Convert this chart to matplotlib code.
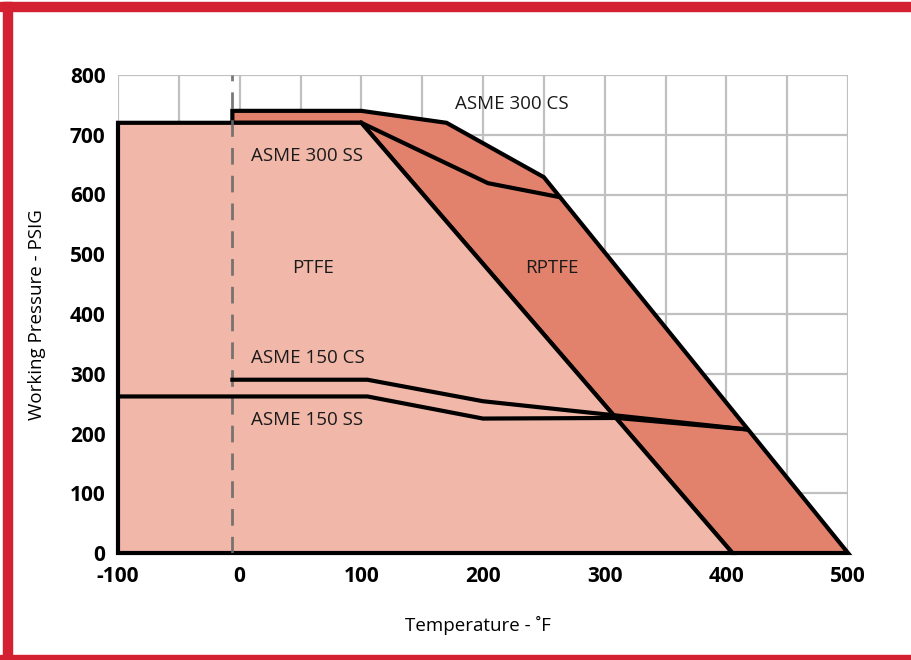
import matplotlib
matplotlib.use("Agg")
import matplotlib.pyplot as plt
from matplotlib.patches import Polygon, Rectangle

plt.rcParams["font.family"] = ["Open Sans", "DejaVu Sans"]

# PTFE envelope (temperature F, pressure psig)
ptfe_temp = [-100, -100, 100, 405]
ptfe_psi = [0, 720, 720, 0]

# RPTFE envelope, ASME 300 CS along the top
rptfe_temp = [-6, -6, 100, 170, 250, 500, 405, 100]
rptfe_psi = [720, 740, 740, 720, 629, 0, 0, 720]

asme300ss_temp = [100, 204, 262]
asme300ss_psi = [720, 619, 596]

asme150cs_temp = [-6, 105, 200, 416]
asme150cs_psi = [290, 290, 254, 207]

asme150ss_temp = [-100, 105, 200, 310, 416]
asme150ss_psi = [262, 262, 225, 226, 207]

x_ticks = [-100, 0, 100, 200, 300, 400, 500]
y_ticks = [0, 100, 200, 300, 400, 500, 600, 700, 800]

light = "#F1B8A9"
dark = "#E2826D"
red = "#D42132"

fig = plt.figure(figsize=(9.11, 6.6), dpi=100)
ax = fig.add_axes([118 / 911, 107 / 660, 730 / 911, 478 / 660])
ax.set_xlim(-100, 500)
ax.set_ylim(0, 800)

for gx in range(-100, 501, 50):
    ax.axvline(gx, color="#C0C0C0", lw=1.6, zorder=0)
for gy in range(0, 801, 100):
    ax.axhline(gy, color="#C0C0C0", lw=1.6, zorder=0)

ax.add_patch(Polygon(list(zip(rptfe_temp, rptfe_psi)), closed=True, facecolor=dark,
                     edgecolor="black", lw=3, joinstyle="miter", zorder=2, clip_on=False))
ax.add_patch(Polygon(list(zip(ptfe_temp, ptfe_psi)), closed=True, facecolor=light,
                     edgecolor="black", lw=3, joinstyle="miter", zorder=2, clip_on=False))

ax.plot([-6, -6], [0, 800], color="#6A6A6A", lw=2, ls=(0, (6, 4)), alpha=0.9, zorder=3)

ax.plot(asme300ss_temp, asme300ss_psi, color="black", lw=3, zorder=4)
ax.plot(asme150cs_temp, asme150cs_psi, color="black", lw=3, zorder=4)
ax.plot(asme150ss_temp, asme150ss_psi, color="black", lw=3, zorder=4)

lab = dict(fontsize=13.5, color="#1a1a1a", zorder=5)
ax.text(177, 752, "ASME 300 CS", va="center", **lab)
ax.text(9, 665, "ASME 300 SS", va="center", **lab)
ax.text(60, 477, "PTFE", ha="center", va="center", **lab)
ax.text(257, 477, "RPTFE", ha="center", va="center", **lab)
ax.text(9, 326, "ASME 150 CS", va="center", **lab)
ax.text(9, 222, "ASME 150 SS", va="center", **lab)

ax.set_xticks(x_ticks)
ax.set_yticks(y_ticks)
ax.set_xticklabels([str(v) for v in x_ticks], fontsize=15, fontweight="bold")
ax.set_yticklabels([str(v) for v in y_ticks], fontsize=15, fontweight="bold")
ax.tick_params(axis="x", length=0, pad=9)
ax.tick_params(axis="y", length=0, pad=9)
for s in ax.spines.values():
    s.set_visible(False)

fig.text(478 / 911, 1 - 625 / 660, "Temperature - ˚F", ha="center", va="center", fontsize=13.5)
fig.text(37 / 911, 1 - 315 / 660, "Working Pressure - PSIG", ha="center", va="center",
         rotation=90, fontsize=13.5)

# red frame
fig.patches.append(Rectangle((0, 1 - 11 / 660), 1, 9 / 660, transform=fig.transFigure,
                             color=red, zorder=10))
fig.patches.append(Rectangle((3 / 911, 0), 9 / 911, 1 - 2 / 660, transform=fig.transFigure,
                             color=red, zorder=10))
fig.patches.append(Rectangle((0, 0), 1, 5 / 660, transform=fig.transFigure,
                             color=red, zorder=10))

fig.savefig("out.png", dpi=100)
